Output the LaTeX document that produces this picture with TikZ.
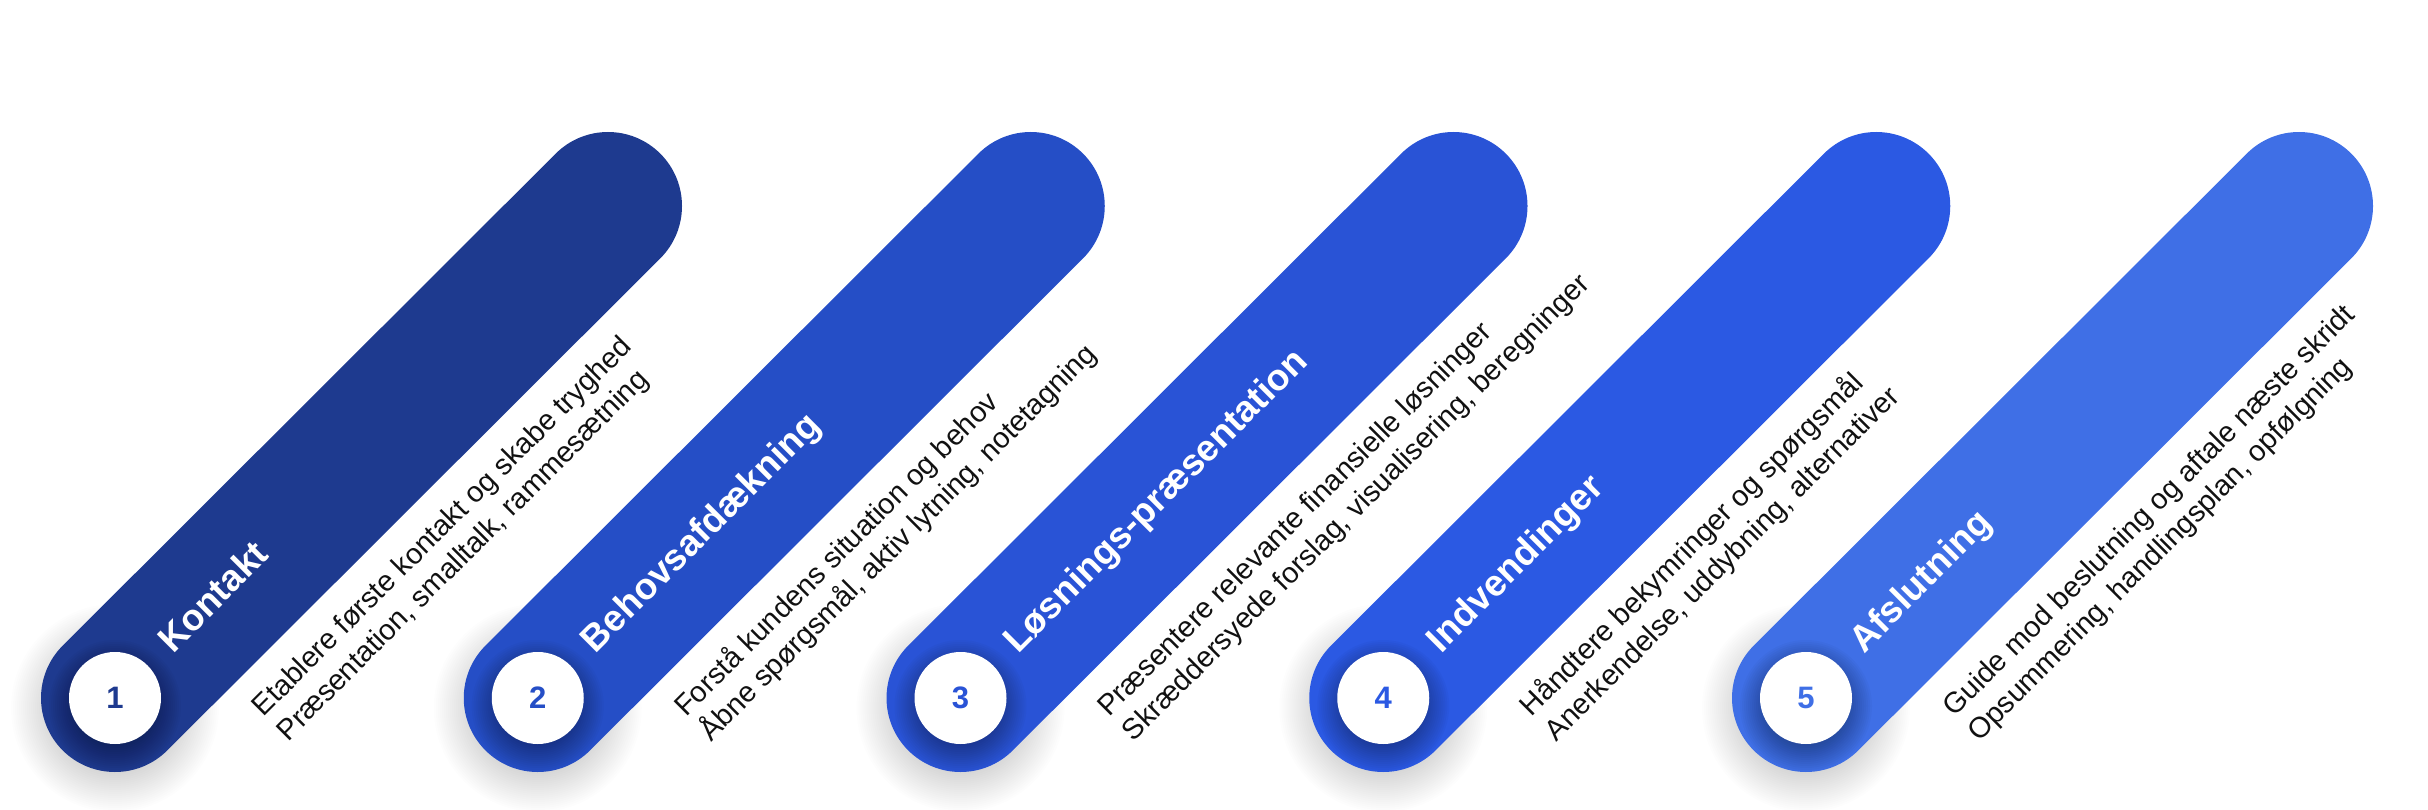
\documentclass[tikz,border=0pt]{standalone}
\usepackage{fontspec}
\setmainfont{Liberation Sans}
\definecolor{c1}{HTML}{1E3A8F}
\definecolor{c2}{HTML}{254EC6}
\definecolor{c3}{HTML}{2953D6}
\definecolor{c4}{HTML}{2B59E3}
\definecolor{c5}{HTML}{3F6FE6}
\definecolor{desc}{HTML}{111111}
\begin{document}
\begin{tikzpicture}[x=1pt,y=-1pt,
  pill/.style={line width=148pt, line cap=round},
  ttl/.style={text=white, font=\bfseries\fontsize{37}{44}\selectfont, anchor=base west, inner sep=0pt, transform shape},
  dsc/.style={text=desc, font=\fontsize{29}{35}\selectfont, anchor=base west, inner sep=0pt, transform shape},
  num/.style={font=\bfseries\fontsize{31}{37}\selectfont, inner sep=0pt},
  oshadow/.style={fill=black, opacity=0.006},
  ishadow/.style={fill=black, opacity=0.022}]
\useasboundingbox (0,0) rectangle (2428,810);
\foreach \i/\col/\T/\A/\B in {
  1/c1/Kontakt/{Etablere første kontakt og skabe tryghed}/{Præsentation, smalltalk, rammesætning},
  2/c2/Behovsafdækning/{Forstå kundens situation og behov}/{Åbne spørgsmål, aktiv lytning, notetagning},
  3/c3/Løsnings-præsentation/{Præsentere relevante finansielle løsninger}/{Skræddersyede forslag, visualisering, beregninger},
  4/c4/Indvendinger/{Håndtere bekymringer og spørgsmål}/{Anerkendelse, uddybning, alternativer},
  5/c5/Afslutning/{Guide mod beslutning og aftale næste skridt}/{Opsummering, handlingsplan, opfølgning}}{
  \pgfmathsetmacro\cx{115+422.75*(\i-1)}
  \coordinate (s\i) at (\cx,698);
  \coordinate (e\i) at (\cx+493,206);
  % outer soft shadow around bottom cap
  \foreach \k in {0,...,30}{
    \fill[oshadow] (\cx,708) circle ({104-2*\k});
  }
  % pill
  \draw[pill, draw=\col] (s\i) -- (e\i);
  % shadow of the white circle
  \foreach \k in {0,...,20}{
    \fill[ishadow] (\cx,706) circle ({66-2*\k});
  }
  \fill[white] (s\i) circle (46);
  \node[num, text=\col] (n\i) at (s\i) {\i};
  \begin{scope}[shift={(s\i)}, rotate=45]
    \node[ttl] (t\i) at (72,10) {\T};
    \node[dsc] (a\i) at (91,119) {\A};
    \node[dsc] (b\i) at (91,154) {\B};
  \end{scope}
}
\end{tikzpicture}
\end{document}
